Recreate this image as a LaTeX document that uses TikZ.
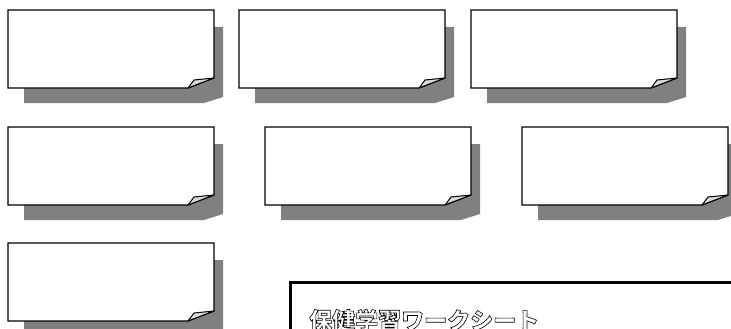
\documentclass[tikz,border=0pt]{standalone}
\usepackage{fontspec}
\newfontfamily\jpfont{Noto Sans CJK JP}
\usepackage{tikz}
\usetikzlibrary{calc}
\newcommand{\outlinetext}[1]{\special{pdf:literal direct 1 Tr 0.6 w}#1\special{pdf:literal direct 0 Tr}}
\begin{document}
\begin{tikzpicture}[x=1pt,y=-1pt,card/.style = {draw=black,line width=1.2pt,fill=white,line join=miter},cardshadow/.style = {fill=black!50},flap/.style = {draw=black,line width=1pt,fill=black!15,line join=round}]
\useasboundingbox (0,0) rectangle (731,329);
\foreach \nm/\x/\y in {c1/8/10, c2/239/10, c3/471/10, c4/8/127, c5/265/127, c6/522/127, c7/8/243}
{
\fill[cardshadow] (\x+16,\y+17) -- (\x+215,\y+17) -- (\x+215,\y+87) -- (\x+196,\y+93) -- (\x+16,\y+93) -- cycle;
\coordinate (\nm) at (\x,\y);
\draw[card] (\nm) -- ++(206,0) -- ++(0,68) -- ++(-26,10) -- ++(-180,0) -- cycle;
\draw[flap] ($(\nm)+(180,78)$) .. controls ($(\nm)+(183,74)$) .. ($(\nm)+(186,70)$) -- ($(\nm)+(206,68)$) -- cycle;
}
% worksheet frame
\coordinate (wsa) at (290,345);
\coordinate (wsb) at (290,282);
\coordinate (wsc) at (750,282);
\draw[line width=3pt] (wsa) -- (wsb) -- (wsc);
\node (title) [anchor=base west,inner sep=0pt,font=\jpfont\bfseries\fontsize{23pt}{23pt}\selectfont] at (309,329) {\outlinetext{保健学習ワークシート}};
\end{tikzpicture}
\end{document}
